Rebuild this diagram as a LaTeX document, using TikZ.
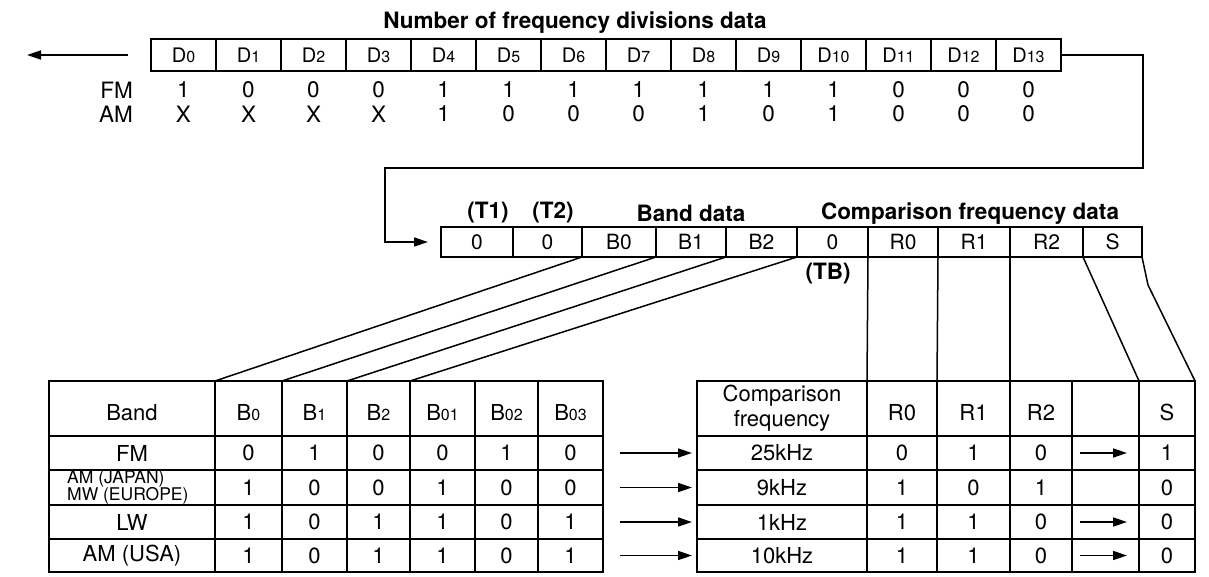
\documentclass[tikz,border=0pt]{standalone}
\usepackage{fontspec}
\setmainfont{TeX Gyre Heros}
\usetikzlibrary{arrows.meta}
\newcommand\myfs[1]{\fontsize{#1}{#1}\selectfont}
\newcommand\sbs[1]{{\fontsize{16}{16}\selectfont #1}}
\newcommand\tsbs[1]{{\fontsize{16}{16}\selectfont #1}}
\begin{document}
\begin{tikzpicture}[x=1pt,y=-1pt,
  box/.style={draw, line width=1.6pt, inner sep=0pt, outer sep=0pt},
  regcell/.style={box, minimum width=65pt, minimum height=32pt, font=\myfs{20}},
  midcell/.style={box, minimum height=30pt, font=\myfs{21}},
  tcell/.style={box},
  txt/.style={inner sep=0pt, font=\myfs{22}},
  val/.style={inner sep=0pt, font=\myfs{22.5}},
  btitle/.style={inner sep=0pt, font=\bfseries\myfs{22.5}},
  conn/.style={line width=1.5pt},
  arr/.style={conn, -{Triangle[length=14pt,width=9pt]}},
]
\useasboundingbox (0,0) rectangle (1209,577);

% ---------- top register ----------
\foreach \i in {0,...,13}
  \node[regcell] (d\i) at ({183.5+65*\i},55) {D\sbs{\i}};
\node[btitle] (ttl) at (575,23) {Number of frequency divisions data};
\node[val, anchor=east] (fmlab) at (133,90) {FM};
\node[val, anchor=east] (amlab) at (133,114) {AM};
\foreach \v [count=\i from 0] in {1,0,0,0,1,1,1,1,1,1,1,0,0,0}
  \node[val] (fm\i) at ({183.5+65*\i},90) {\v};
\foreach \v [count=\i from 0] in {X,X,X,X,1,0,0,0,1,0,1,0,0,0}
  \node[val] (am\i) at ({183.5+65*\i},114) {\v};
\coordinate (la1) at ([xshift=-23pt]d0.west);
\coordinate (la2) at ([xshift=-124pt]d0.west);
\draw[arr] (la1) -- (la2);

% ---------- middle register ----------
\node[midcell, minimum width=72pt] (m1)  at (477,242)    {0};
\node[midcell, minimum width=69pt] (m2)  at (547.5,242)  {0};
\node[midcell, minimum width=74pt] (mb0) at (619,242)    {B0};
\node[midcell, minimum width=70pt] (mb1) at (691,242)    {B1};
\node[midcell, minimum width=71pt] (mb2) at (761.5,242)  {B2};
\node[midcell, minimum width=71pt] (mtb) at (832.5,242)  {0};
\node[midcell, minimum width=70pt] (mr0) at (903,242)    {R0};
\node[midcell, minimum width=72pt] (mr1) at (974,242)    {R1};
\node[midcell, minimum width=73pt] (mr2) at (1046.5,242) {R2};
\node[midcell, minimum width=59pt] (ms)  at (1112.5,242) {S};

\node[btitle] (t1)  at (488,213) {(T1)};
\node[btitle] (t2)  at (553,213) {(T2)};
\node[btitle] (bd)  at (691,213) {Band data};
\node[btitle] (cfd) at (970,214) {Comparison frequency data};
\node[btitle] (tb)  at (828,274) {(TB)};

\coordinate (c1) at (1143,168);
\coordinate (c2) at (385,168);
\draw[arr] (d13.east) -| (c1) -- (c2) |- ([xshift=-13pt]m1.west);

% ---------- bottom left table ----------
\foreach \cx/\w [count=\c from 0] in {132/166, 248.5/67, 314.5/65, 378.5/63, 442.5/65, 506.5/63, 570.5/65}
  \foreach \cy/\h [count=\r from 0] in {408.5/55, 453/34, 487.5/35, 522/34, 555.5/33}
    \node[tcell, minimum width=\w*1pt, minimum height=\h*1pt] (tl-\r-\c) at (\cx,\cy) {};

\node[txt] at ([yshift=-4pt]tl-0-0.center) {Band};
\foreach \t [count=\c from 1] in {B\tsbs{0},B\tsbs{1},B\tsbs{2},B\tsbs{01},B\tsbs{02},B\tsbs{03}}
  \node[txt] at ([yshift=-4pt]tl-0-\c.center) {\t};
\node[txt] at (tl-1-0) {FM};
\node[inner sep=0pt, anchor=west, align=left, font=\myfs{17.5}] at ([xshift=18pt]tl-2-0.west) {AM (JAPAN)\\MW (EUROPE)};
\node[txt] at (tl-3-0) {LW};
\node[txt] at (tl-4-0) {AM (USA)};
\foreach \r/\vals in {1/{0,1,0,0,1,0},2/{1,0,0,1,0,0},3/{1,0,1,1,0,1},4/{1,0,1,1,0,1}}
  \foreach \v [count=\c from 1] in \vals
    \node[txt] at (tl-\r-\c) {\v};

% ---------- bottom right table ----------
\foreach \cx/\w [count=\c from 0] in {782/170, 902/70, 973.5/73, 1041/62, 1105.5/67, 1167/56}
  \foreach \cy/\h [count=\r from 0] in {408.5/55, 453/34, 487.5/35, 522/34, 555.5/33}
    \node[tcell, minimum width=\w*1pt, minimum height=\h*1pt] (tr-\r-\c) at (\cx,\cy) {};

\node[txt, align=center, font=\fontsize{22}{25}\selectfont] at (tr-0-0) {Comparison\\frequency};
\node[txt] at ([yshift=-4pt]tr-0-1.center) {R0};
\node[txt] at ([yshift=-4pt]tr-0-2.center) {R1};
\node[txt] at ([yshift=-4pt]tr-0-3.center) {R2};
\node[txt] at ([yshift=-4pt]tr-0-5.center) {S};
\foreach \r/\f/\a/\b/\c/\s in {1/25kHz/0/1/0/1, 2/9kHz/1/0/1/0, 3/1kHz/1/1/0/0, 4/10kHz/1/1/0/0}{
  \node[txt] at (tr-\r-0) {\f};
  \node[txt] at (tr-\r-1) {\a};
  \node[txt] at (tr-\r-2) {\b};
  \node[txt] at (tr-\r-3) {\c};
  \node[txt] at (tr-\r-5) {\s};
}
\foreach \r in {1,3,4}
  \draw[arr] ([xshift=8pt]tr-\r-4.west) -- ([xshift=-12pt]tr-\r-4.east);
\foreach \r in {1,...,4}
  \draw[arr] ([xshift=17pt]tl-\r-6.east) -- ([xshift=-5pt]tr-\r-0.west);

% ---------- connectors register -> tables ----------
\draw[conn] (mb0.south west) -- (tl-0-1.north west);
\draw[conn] (mb1.south west) -- (tl-0-2.north west);
\draw[conn] (mb2.south west) -- (tl-0-3.north west);
\draw[conn] (mb2.south east) -- (tl-0-4.north west);
\draw[conn] (mtb.south east) -- (tr-0-1.north west);
\draw[conn] (mr0.south east) -- (tr-0-2.north west);
\draw[conn] (mr1.south east) -- (tr-0-3.north west);
\draw[conn] (mr2.south east) -- (tr-0-5.north west);
\coordinate (kk) at (1148,285);
\draw[conn] (ms.south east) -- (kk) -- (tr-0-5.north east);
\end{tikzpicture}
\end{document}
